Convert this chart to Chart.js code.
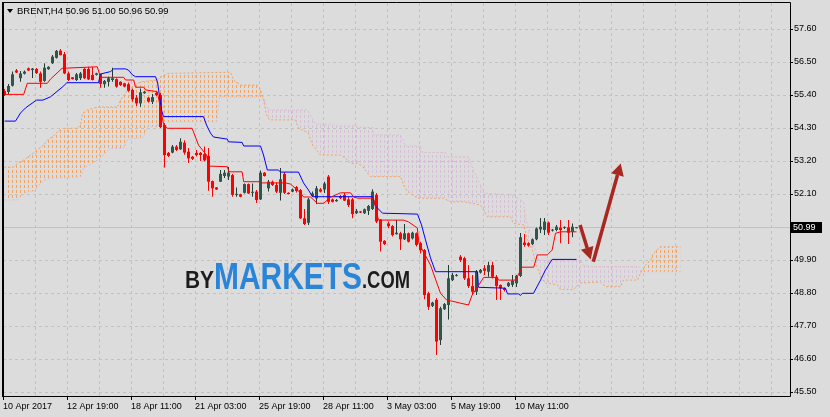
<!DOCTYPE html>
<html lang="en">
<head>
  <meta charset="UTF-8">
  <title>BRENT H4</title>
  <script src="https://cdn.jsdelivr.net/npm/chart.js"></script>
  <style>
    html, body { margin: 0; padding: 0; background: #dcdcdc; }
    canvas { display: block; }
  </style>
</head>
<body>
  <canvas id="chart" width="830" height="417"></canvas>

  <script>
    // time axis labels, one every 16 bars
    const timeLabels = ['10 Apr 2017', '12 Apr 19:00', '18 Apr 11:00', '21 Apr 03:00', '25 Apr 19:00',
      '28 Apr 11:00', '3 May 03:00', '5 May 19:00', '10 May 11:00'];
    const priceTicks = [45.50, 46.60, 47.70, 48.80, 49.90, 51.00, 52.10, 53.20, 54.30, 55.40, 56.50, 57.60];

    // H4 candles
    const open = [
      55.53, 55.50, 55.71, 56.22, 55.96, 56.11, 56.29, 56.23, 56.27, 56.12,
      55.87, 56.26, 56.46, 56.64, 56.88, 56.76, 56.12, 55.99, 55.90, 55.96,
      56.27, 56.27, 56.07, 56.07, 56.10, 55.76, 55.84, 55.90, 55.93, 55.84,
      55.79, 55.76, 55.57, 55.31, 55.12, 55.46, 55.31, 55.17, 55.47, 55.40,
      54.40, 53.47, 53.48, 53.68, 53.59, 53.81, 53.51, 53.34, 53.47, 53.47,
      53.43, 53.37, 52.53, 52.32, 52.51, 52.70, 52.68, 52.73, 52.07, 52.09,
      52.14, 52.43, 52.14, 52.18, 51.92, 52.81, 52.29, 52.51, 52.40, 52.14,
      52.77, 52.14, 52.18, 52.33, 52.23, 51.29, 51.14, 52.03, 51.95, 52.25,
      52.25, 52.68, 51.92, 51.86, 52.03, 52.07, 51.92, 51.92, 51.46, 51.52,
      51.46, 51.54, 51.60, 52.07, 51.25, 50.54, 51.12, 51.03, 50.76, 50.79,
      50.59, 50.79, 50.62, 50.79, 50.46, 50.23, 48.79, 48.37, 48.57, 47.23,
      48.26, 48.40, 49.23, 49.37, 50.01, 49.96, 49.29, 49.03, 48.84, 49.48,
      49.62, 49.51, 49.73, 49.34, 49.07, 48.96, 49.03, 49.07, 49.12, 49.37,
      50.48, 50.46, 50.43, 50.59, 50.92, 50.90, 51.15, 50.88, 50.90, 50.98,
      50.97, 50.99, 50.84, 50.96
    ];
    const high = [
      55.60, 55.77, 56.18, 56.27, 56.20, 56.22, 56.32, 56.30, 56.30, 56.18,
      56.46, 56.36, 56.73, 56.90, 56.93, 56.83, 56.18, 56.00, 56.13, 56.17,
      56.30, 56.34, 56.34, 56.14, 56.12, 55.90, 56.01, 56.31, 55.96, 55.86,
      55.81, 55.82, 55.62, 55.40, 55.62, 55.53, 55.33, 55.43, 55.50, 55.47,
      54.47, 53.50, 53.73, 53.73, 53.96, 53.89, 53.63, 53.37, 53.57, 53.50,
      53.68, 53.63, 52.55, 52.33, 52.90, 52.90, 53.00, 52.77, 52.32, 52.11,
      52.45, 52.45, 52.45, 52.23, 52.88, 52.83, 52.57, 52.55, 52.48, 52.97,
      52.83, 52.16, 52.28, 52.37, 52.27, 51.60, 51.97, 52.18, 52.37, 52.30,
      52.51, 52.73, 51.95, 51.93, 52.07, 52.13, 52.00, 51.97, 51.60, 51.53,
      51.62, 51.73, 52.26, 52.13, 51.27, 50.56, 51.18, 51.07, 51.23, 50.84,
      51.10, 50.82, 50.84, 50.82, 50.51, 50.27, 48.84, 48.51, 48.63, 48.34,
      48.47, 49.73, 49.47, 49.43, 50.07, 50.01, 49.73, 49.40, 49.57, 49.60,
      49.73, 49.84, 49.84, 49.40, 49.08, 48.98, 49.17, 49.40, 49.40, 50.80,
      50.77, 50.49, 50.62, 50.98, 51.30, 51.30, 51.18, 50.93, 51.07, 51.23,
      51.02, 51.23, 51.12, 51.00
    ];
    const low = [
      55.37, 55.43, 55.68, 56.13, 55.84, 56.08, 56.20, 55.97, 56.10, 55.64,
      55.84, 56.24, 56.43, 56.62, 56.72, 56.09, 55.87, 55.92, 55.87, 55.90,
      55.93, 55.90, 55.88, 56.05, 55.64, 55.64, 55.68, 55.84, 55.64, 55.70,
      55.66, 55.51, 55.18, 55.03, 55.01, 55.44, 55.15, 55.10, 55.37, 54.30,
      52.98, 53.33, 53.46, 53.53, 53.57, 53.41, 53.13, 53.23, 53.35, 53.20,
      53.18, 52.21, 52.01, 52.23, 52.50, 52.63, 52.57, 52.01, 52.01, 51.99,
      52.12, 52.10, 52.01, 51.80, 51.90, 52.68, 52.18, 52.37, 52.13, 51.88,
      52.10, 52.08, 52.16, 52.15, 51.27, 51.07, 51.07, 52.00, 51.77, 52.15,
      52.13, 51.77, 51.82, 51.84, 51.93, 51.87, 51.67, 51.29, 51.43, 51.47,
      51.43, 51.40, 51.57, 51.13, 50.18, 50.40, 50.96, 50.68, 50.75, 50.23,
      50.57, 50.48, 50.58, 50.35, 50.12, 48.59, 48.23, 48.33, 46.73, 47.07,
      48.23, 47.92, 49.20, 49.35, 49.83, 49.23, 48.97, 48.77, 48.73, 49.45,
      49.40, 49.34, 49.28, 48.57, 48.57, 48.85, 49.00, 49.00, 49.00, 49.33,
      50.34, 50.34, 50.40, 50.56, 50.80, 50.73, 50.73, 50.85, 50.86, 50.46,
      50.93, 50.43, 50.66, 50.96
    ];
    const close = [
      55.40, 55.70, 56.09, 56.15, 56.12, 56.18, 56.22, 56.28, 56.13, 55.84,
      56.31, 56.34, 56.68, 56.87, 56.73, 56.12, 55.90, 55.93, 56.09, 56.12,
      55.96, 55.92, 55.90, 56.12, 55.77, 55.87, 55.96, 55.96, 55.68, 55.73,
      55.68, 55.54, 55.26, 55.12, 55.49, 55.51, 55.18, 55.33, 55.40, 54.33,
      53.40, 53.37, 53.68, 53.57, 53.84, 53.48, 53.29, 53.27, 53.40, 53.40,
      53.22, 52.51, 52.29, 52.25, 52.77, 52.81, 52.81, 52.07, 52.07, 52.01,
      52.43, 52.12, 52.14, 51.90, 52.81, 52.70, 52.51, 52.40, 52.18, 52.59,
      52.14, 52.10, 52.25, 52.20, 51.29, 51.10, 51.92, 52.12, 52.29, 52.18,
      52.45, 51.84, 51.84, 51.90, 51.96, 51.88, 51.73, 51.43, 51.54, 51.48,
      51.59, 51.70, 52.18, 51.18, 50.51, 50.43, 51.03, 50.73, 50.81, 50.59,
      50.79, 50.51, 50.81, 50.40, 50.23, 48.73, 48.34, 48.48, 47.18, 48.29,
      48.43, 49.29, 49.40, 49.40, 49.90, 49.29, 49.03, 48.84, 49.51, 49.57,
      49.54, 49.73, 49.34, 49.03, 48.96, 48.90, 49.14, 49.21, 49.37, 50.66,
      50.40, 50.38, 50.59, 50.95, 51.01, 51.18, 50.81, 50.90, 51.01, 50.90,
      50.99, 50.81, 51.01, 50.99
    ];

    // Ichimoku lines as [bar, price] break points
    const tenkan = [[0, 55.42], [4.8, 55.42], [5.7, 55.79], [10.7, 55.79], [11.5, 55.93], [14.4, 56.29],
      [23.2, 56.34], [24, 55.99], [29.8, 55.99], [30.25, 55.90], [32.3, 55.90], [32.75, 55.66],
      [34.8, 55.66], [35.25, 55.57], [38.2, 55.51], [39.75, 54.43], [40.7, 54.29], [46.9, 54.29],
      [48.5, 53.73], [50.5, 53.40], [51, 53.03], [55.7, 53.01], [56.1, 52.84], [59.4, 52.84],
      [59.8, 52.51], [64, 52.51], [64.4, 52.47], [70.25, 52.47], [71.5, 52.43], [74, 52.14],
      [74.75, 52.00], [76.5, 52.00], [78.2, 51.79], [79.8, 51.79], [81.5, 51.99], [84, 52.14],
      [86.5, 52.14], [87.3, 52.00], [88.25, 51.96], [92.25, 51.96], [93.5, 51.23], [99.75, 51.23],
      [101, 51.17], [103.2, 50.97], [103.6, 50.46], [106.5, 49.73], [109, 48.79], [110.5, 48.57],
      [116, 48.40], [116.9, 48.73], [118.2, 48.99], [119.8, 49.32], [123.2, 49.32], [123.5, 49.23],
      [127.75, 49.23], [129.4, 49.66], [132.3, 49.66], [133.2, 50.07], [135.7, 50.07], [136.9, 50.23],
      [137.75, 50.79], [139, 50.84], [143, 50.84]];
    const kijun = [[0, 54.53], [2.75, 54.53], [4, 54.80], [5.25, 54.97], [8, 55.23], [9.6, 55.23],
      [11.5, 55.34], [14.6, 55.68], [15.6, 55.81], [23.5, 55.81], [24, 56.10], [26.5, 56.18],
      [27.3, 56.27], [30.25, 56.27], [31, 56.23], [32, 56.07], [32.75, 56.01], [37.75, 56.01],
      [38.25, 55.83], [39.25, 54.90], [39.75, 54.68], [49.75, 54.68], [50.5, 54.40], [51.5, 54.13],
      [52.25, 54.00], [55.7, 53.93], [56, 53.84], [59.4, 53.82], [59.8, 53.70], [64, 53.70],
      [64.75, 53.40], [65.7, 52.90], [68.5, 52.90], [69, 52.83], [73.5, 52.83], [74.75, 52.47],
      [76, 52.23], [77, 52.01], [92, 52.01], [92.75, 51.70], [94.5, 51.46], [103.25, 51.43],
      [104.25, 51.07], [105.25, 50.57], [106.5, 49.97], [107.75, 49.51], [118.25, 49.51],
      [118.5, 48.99], [125.25, 48.96], [125.75, 48.77], [128.5, 48.77], [129, 48.72], [129.5, 48.79],
      [132.25, 48.79], [134, 49.23], [135.25, 49.57], [136.9, 49.92], [143, 49.92]];
    const spanA = [[0, 53.00], [2.25, 53.00], [3.25, 53.13], [4.75, 53.23], [6.5, 53.40], [8.25, 53.57],
      [9.75, 53.73], [10.75, 53.90], [12.25, 54.03], [13.25, 54.18], [14.75, 54.29], [18.25, 54.29],
      [19, 54.40], [19.5, 54.79], [20.75, 54.90], [23.25, 55.00], [28.25, 55.00], [29, 55.23],
      [30.75, 55.57], [34, 55.84], [38.25, 55.90], [39, 56.01], [40.75, 56.12], [56.5, 56.16],
      [57.25, 55.90], [59, 55.73], [63.25, 55.73], [64, 55.57], [64.75, 55.23], [65.5, 54.75],
      [66.25, 54.57], [72.75, 54.57], [73.5, 54.29], [76, 54.13], [76.5, 53.90], [77.25, 53.68],
      [79, 53.40], [84, 53.40], [85.25, 53.30], [86.5, 53.12], [88.25, 53.12], [89.5, 53.03],
      [90.75, 52.79], [91.5, 52.68], [99, 52.68], [99.75, 52.40], [100.75, 52.18], [103.25, 51.96],
      [109.75, 51.96], [111.5, 51.84], [114.75, 51.84], [116.5, 51.80], [119, 51.73], [119.75, 51.57],
      [120.75, 51.34], [126.5, 51.34], [127.25, 51.12], [129.75, 51.07], [130.25, 50.83],
      [130.75, 50.57], [132, 50.23], [132.75, 49.84], [134, 49.34], [135.25, 49.13], [138.25, 49.07],
      [139, 48.92], [142.25, 48.92], [143.25, 49.03], [144, 49.13], [149, 49.17], [150.25, 49.01],
      [154, 49.01], [154.75, 49.23], [158.25, 49.23], [159, 49.46], [160.25, 49.73], [161.5, 49.90],
      [162.25, 50.13], [164, 50.34], [169, 50.34]];
    const spanB = [[0, 51.90], [3.25, 51.90], [4, 52.01], [5.75, 52.18], [7.25, 52.18], [9, 52.46],
      [10.75, 52.62], [19, 52.67], [19.75, 52.96], [23.25, 53.23], [26.5, 53.62], [29.75, 53.62],
      [30.75, 53.90], [34.75, 54.00], [35.75, 54.34], [38.25, 54.34], [39, 54.51], [53, 54.51],
      [53.75, 55.33], [64.75, 55.33], [66, 54.90], [75.75, 54.90], [76.5, 54.73], [77.75, 54.43],
      [82.25, 54.43], [82.75, 54.37], [87.75, 54.37], [88.25, 54.32], [92, 54.32], [92.25, 54.07],
      [99, 54.07], [100.25, 53.70], [104, 53.70], [104.5, 53.48], [110.25, 53.48], [110.75, 53.34],
      [116, 53.34], [116.5, 53.13], [117.75, 52.73], [119, 52.40], [119.75, 52.13], [127.25, 52.07],
      [129.75, 51.83], [130.25, 51.23], [131.5, 50.80], [132.75, 50.23], [133.25, 49.90], [144, 49.90],
      [144.5, 49.73], [146.5, 49.68], [158.5, 49.68], [159.25, 49.51], [169, 49.51]];

    // hand-drawn arrows, in [bar, price]
    const arrows = [
      { from: [143.9, 51.07], to: [146.55, 49.92] },
      { from: [147.2, 49.84], to: [154.05, 53.12] }
    ];

    const BG = '#dcdcdc';
    const GRID = '#c2c2c2';
    const BULL = '#2f574c';
    const BULL_WICK = '#1f3b33';
    const BEAR = '#ff0000';
    const FONT = '"Liberation Sans", Arial, sans-serif';

    const canvas = document.getElementById('chart');
    const c2d = canvas.getContext('2d');

    // dotted vertical hatch for the cloud, one line per bar
    function hatch(color) {
      const tile = document.createElement('canvas');
      tile.width = 4;
      tile.height = 5;
      const t = tile.getContext('2d');
      t.fillStyle = color;
      t.fillRect(0, 0, 1, 3);
      return c2d.createPattern(tile, 'repeat');
    }

    const pts = arr => arr.map(([x, y]) => ({ x, y }));
    const isBull = open.map((o, i) => close[i] >= o);

    function drawScaled(ctx, text, font, color, x, base, width) {
      ctx.font = font;
      const w = ctx.measureText(text).width;
      ctx.save();
      ctx.translate(x, base);
      ctx.scale(width / w, 1);
      ctx.fillStyle = color;
      ctx.fillText(text, 0, 0);
      ctx.restore();
    }

    function drawArrow(ctx, x1, y1, x2, y2) {
      const a = Math.atan2(y2 - y1, x2 - x1);
      const len = 12, half = 6.5;
      const bx = x2 - len * Math.cos(a), by = y2 - len * Math.sin(a);
      ctx.strokeStyle = ctx.fillStyle = '#a8271f';
      ctx.lineWidth = 3.5;
      ctx.beginPath();
      ctx.moveTo(x1, y1);
      ctx.lineTo(bx, by);
      ctx.stroke();
      ctx.beginPath();
      ctx.moveTo(x2, y2);
      ctx.lineTo(bx + half * Math.sin(a), by - half * Math.cos(a));
      ctx.lineTo(bx - half * Math.sin(a), by + half * Math.cos(a));
      ctx.closePath();
      ctx.fill();
    }

    const terminal = {
      id: 'terminal',
      beforeDraw(chart) {
        const ctx = chart.ctx;
        ctx.save();
        ctx.fillStyle = BG;
        ctx.fillRect(0, 0, chart.width, chart.height);
        ctx.restore();
      },
      beforeDatasetsDraw(chart) {
        const { ctx, chartArea, scales } = chart;
        const y = Math.round(scales.y.getPixelForValue(close[close.length - 1])) + 0.5;
        ctx.save();
        ctx.strokeStyle = '#c0c0c0';
        ctx.lineWidth = 1;
        ctx.beginPath();
        ctx.moveTo(chartArea.left, y);
        ctx.lineTo(chartArea.right, y);
        ctx.stroke();
        ctx.restore();
      },
      afterDraw(chart) {
        const { ctx, chartArea, scales } = chart;
        const last = close.length - 1;
        ctx.save();

        // watermark
        ctx.filter = 'blur(0.7px)';
        ctx.textBaseline = 'alphabetic';
        drawScaled(ctx, 'BY', 'bold 24px ' + FONT, '#1c1c1c', 185, 288, 29);
        drawScaled(ctx, 'MARKETS', 'bold 37px ' + FONT, '#2a84d8', 214, 289, 148);
        drawScaled(ctx, '.COM', 'bold 23px ' + FONT, '#1c1c1c', 362, 288, 48);
        ctx.filter = 'none';

        // arrows
        arrows.forEach(a => drawArrow(ctx,
          scales.x.getPixelForValue(a.from[0]), scales.y.getPixelForValue(a.from[1]),
          scales.x.getPixelForValue(a.to[0]), scales.y.getPixelForValue(a.to[1])));

        // frame
        ctx.fillStyle = '#000';
        ctx.fillRect(chartArea.left - 1, chartArea.top - 1, 2, chartArea.bottom - chartArea.top + 2);
        ctx.strokeStyle = '#000';
        ctx.lineWidth = 1;
        ctx.beginPath();
        ctx.moveTo(chartArea.left - 1, chartArea.top - 0.5);
        ctx.lineTo(chartArea.right + 0.5, chartArea.top - 0.5);
        ctx.lineTo(chartArea.right + 0.5, chartArea.bottom + 0.5);
        ctx.lineTo(chartArea.left - 1, chartArea.bottom + 0.5);
        ctx.stroke();

        // header
        ctx.beginPath();
        ctx.moveTo(7, 9);
        ctx.lineTo(13, 9);
        ctx.lineTo(10, 13);
        ctx.closePath();
        ctx.fill();
        ctx.font = '9.5px ' + FONT;
        ctx.fillText('BRENT,H4 ' + [open[last], high[last], low[last], close[last]].map(v => v.toFixed(2)).join(' '), 17, 14);

        // last price tag
        const py = Math.round(scales.y.getPixelForValue(close[last]));
        ctx.fillStyle = '#000';
        ctx.fillRect(chartArea.right + 1, py - 5, 31, 11);
        ctx.fillStyle = '#fff';
        ctx.font = '9px ' + FONT;
        ctx.textBaseline = 'middle';
        ctx.fillText(close[last].toFixed(2), chartArea.right + 3, py + 0.5);
        ctx.restore();
      }
    };

    new Chart(canvas, {
      type: 'bar',
      data: {
        datasets: [
          {
            type: 'line', label: 'Senkou A', data: pts(spanA),
            borderColor: '#f4a460', borderWidth: 1, borderDash: [2, 2], pointRadius: 0,
            fill: { target: 1, above: hatch('#f4a460'), below: hatch('#d8bfd8') }, order: 10
          },
          {
            type: 'line', label: 'Senkou B', data: pts(spanB),
            borderColor: '#d8bfd8', borderWidth: 1, borderDash: [2, 2], pointRadius: 0,
            fill: false, order: 10
          },
          {
            label: 'wick', data: open.map((o, i) => ({ x: i, y: [low[i], high[i]] })),
            backgroundColor: isBull.map(b => b ? BULL_WICK : BEAR),
            barThickness: 1, grouped: false, inflateAmount: 0, borderWidth: 0, order: 3
          },
          {
            label: 'body', data: open.map((o, i) => ({ x: i, y: [o, close[i]] })),
            backgroundColor: isBull.map(b => b ? BULL : BEAR),
            barThickness: 3, minBarLength: 1, grouped: false, inflateAmount: 0, borderWidth: 0, order: 2
          },
          {
            type: 'line', label: 'Tenkan-sen', data: pts(tenkan),
            borderColor: '#ff0000', borderWidth: 1, pointRadius: 0, fill: false, order: 1
          },
          {
            type: 'line', label: 'Kijun-sen', data: pts(kijun),
            borderColor: '#0000ff', borderWidth: 1, pointRadius: 0, fill: false, order: 1
          }
        ]
      },
      options: {
        responsive: false,
        devicePixelRatio: 1,
        animation: false,
        events: [],
        layout: { padding: { left: 3, top: 3, right: 0, bottom: 0 } },
        plugins: { legend: { display: false }, tooltip: { enabled: false } },
        scales: {
          x: {
            type: 'linear', min: -0.375, max: 196.375, offset: false, bounds: 'data',
            afterBuildTicks: s => {
              s.ticks = [];
              for (let k = 0; k <= 24; k++) s.ticks.push({ value: -0.375 + 8 * k });
            },
            afterFit: s => { s.height = 21; s.paddingLeft = 0; s.paddingRight = 0; },
            grid: {
              offset: false, color: GRID, lineWidth: 1, drawTicks: true, tickLength: 4,
              tickColor: c => (c.index % 2 === 0 && timeLabels[c.index / 2]) ? '#000' : 'rgba(0,0,0,0)'
            },
            border: { display: false, dash: [3, 3] },
            ticks: {
              autoSkip: false, maxRotation: 0, minRotation: 0, align: 'start', padding: 1,
              color: '#000', font: { family: FONT, size: 9 },
              callback: (v, i) => (i % 2 === 0 && timeLabels[i / 2]) ? timeLabels[i / 2] : ''
            }
          },
          y: {
            position: 'right', min: 45.3667, max: 58.4667, bounds: 'data', beginAtZero: false,
            afterBuildTicks: s => { s.ticks = priceTicks.map(v => ({ value: v })); },
            afterFit: s => { s.width = 40; s.paddingTop = 0; s.paddingBottom = 0; },
            grid: { color: GRID, lineWidth: 1, drawTicks: true, tickLength: 3, tickColor: '#000' },
            border: { display: false, dash: [3, 3] },
            ticks: {
              padding: 1, color: '#000', font: { family: FONT, size: 9 },
              callback: v => Number(v).toFixed(2)
            }
          }
        }
      },
      plugins: [terminal]
    });
  </script>
</body>
</html>
